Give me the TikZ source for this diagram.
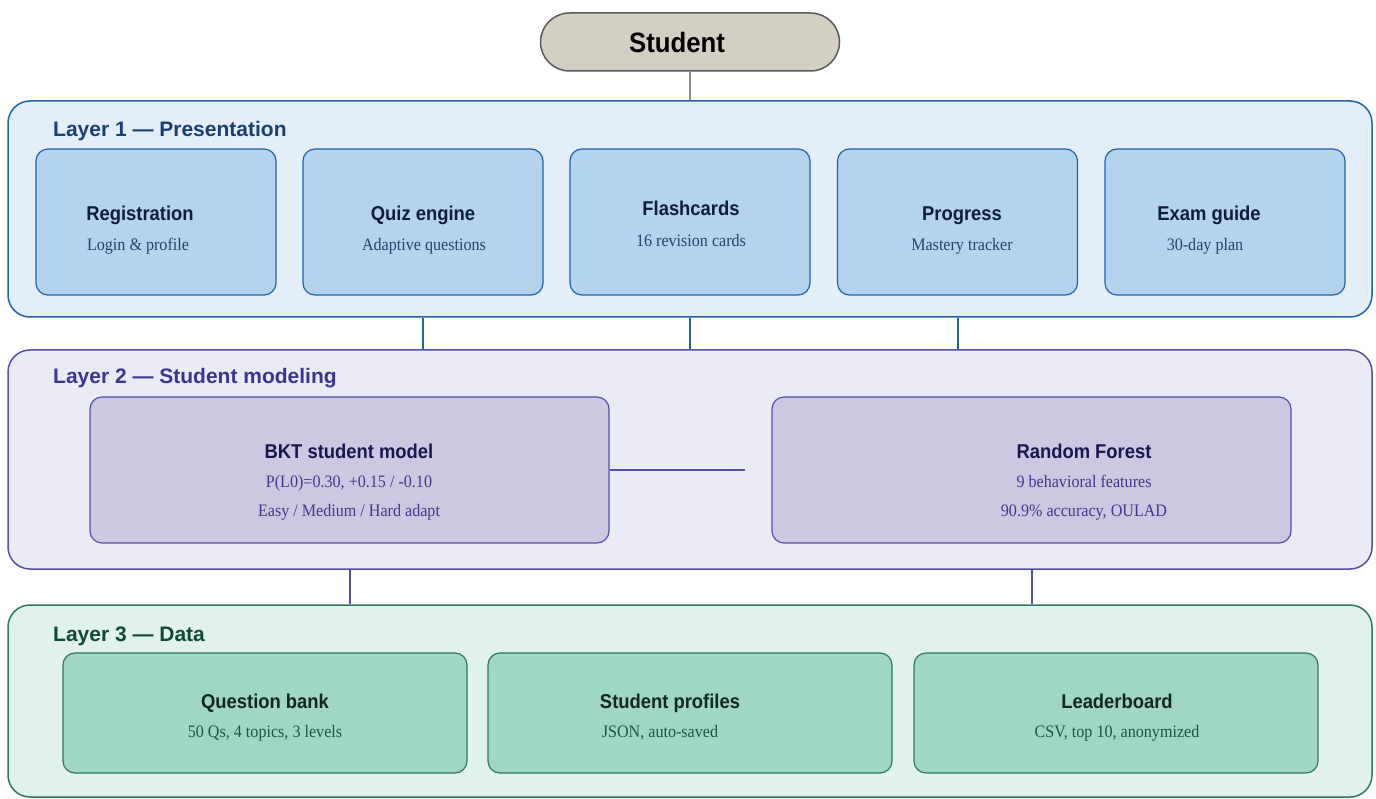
\documentclass[tikz,border=0pt]{standalone}
\usepackage{fontspec}
\setmainfont[FakeStretch=0.92]{Liberation Serif}
\newfontfamily\headfont[FakeStretch=0.92]{Liberation Sans}
\newfontfamily\layerfont{Liberation Sans}
\usetikzlibrary{calc}

\definecolor{pillfill}{HTML}{D3D0C3}
\definecolor{pillline}{HTML}{5A5A5A}
\definecolor{blueback}{HTML}{E4EEF8}
\definecolor{blueline}{HTML}{1F63A8}
\definecolor{bluebox}{HTML}{B3D3EE}
\definecolor{bluelabel}{HTML}{1A3F73}
\definecolor{bluetitle}{HTML}{0E1E3A}
\definecolor{bluesub}{HTML}{27426E}
\definecolor{purpback}{HTML}{EBEBF5}
\definecolor{purpline}{HTML}{5550A5}
\definecolor{purpbox}{HTML}{CCC8E4}
\definecolor{purplabel}{HTML}{3A3690}
\definecolor{purptitle}{HTML}{1A1650}
\definecolor{purpsub}{HTML}{40388A}
\definecolor{greenback}{HTML}{E1F1EB}
\definecolor{greenline}{HTML}{2A7A5E}
\definecolor{greenbox}{HTML}{A0D6C5}
\definecolor{greenlabel}{HTML}{0F4A36}
\definecolor{greentitle}{HTML}{10291F}
\definecolor{greensub}{HTML}{1F5443}

\tikzset{
  layer/.style={
    draw=#1, line width=1.5pt, rounded corners=22pt,
    minimum width=1364pt, inner sep=0pt
  },
  layerlabel/.style={
    anchor=base west, text=#1, inner sep=0pt,
    font=\layerfont\bfseries\fontsize{21}{25}\selectfont
  },
  card/.style={
    draw=#1, line width=1.2pt, rounded corners=12pt, inner sep=0pt
  },
  cardtitle/.style={
    anchor=base, text=#1, inner sep=0pt,
    font=\headfont\bfseries\fontsize{20}{24}\selectfont
  },
  cardsub/.style={
    anchor=base, text=#1, inner sep=0pt,
    font=\fontsize{17.5}{21}\selectfont
  },
  link/.style={draw=#1, line width=2pt}
}

\begin{document}
\begin{tikzpicture}[x=1pt, y=-1pt]
  \useasboundingbox (0,0) rectangle (1376,799);

  \node [draw=pillline, fill=pillfill, line width=1.5pt, rounded corners=29pt,
         minimum width=299pt, minimum height=58pt, inner sep=0pt,
         font=\headfont\bfseries\fontsize{28}{30}\selectfont, text=black]
        (student) at (690,42) {Student\hspace*{26pt}};

  % the three layers
  \node [layer=blueline, fill=blueback, minimum height=216pt] (layerA) at (690,209) {};
  \node [layer=purpline, fill=purpback, minimum height=219pt] (layerB) at (690,459.5) {};
  \node [layer=greenline, fill=greenback, minimum height=192pt] (layerC) at (690,701) {};

  \node [layerlabel=bluelabel]  (labA) at (53,137) {Layer 1 \textemdash{} Presentation};
  \node [layerlabel=purplabel]  (labB) at (53,384) {Layer 2 \textemdash{} Student modeling};
  \node [layerlabel=greenlabel] (labC) at (53,641) {Layer 3 \textemdash{} Data};

  % layer 1
  \foreach \nm/\cx in {reg/156, quiz/423, flash/690, prog/957.5, exam/1225}
    \node [card=blueline, fill=bluebox, minimum width=240pt, minimum height=146pt]
          (\nm) at (\cx,222) {};

  \node [cardtitle=bluetitle] (reg-t)   at (140,221)  {Registration};
  \node [cardsub=bluesub]     (reg-s)   at (138,251)  {Login \& profile};
  \node [cardtitle=bluetitle] (quiz-t)  at (423,221)  {Quiz engine};
  \node [cardsub=bluesub]     (quiz-s)  at (424,251)  {Adaptive questions};
  \node [cardtitle=bluetitle] (flash-t) at (691,216)  {Flashcards};
  \node [cardsub=bluesub]     (flash-s) at (691,247)  {16 revision cards};
  \node [cardtitle=bluetitle] (prog-t)  at (962,221)  {Progress};
  \node [cardsub=bluesub]     (prog-s)  at (962,251)  {Mastery tracker};
  \node [cardtitle=bluetitle] (exam-t)  at (1209,221) {Exam guide};
  \node [cardsub=bluesub]     (exam-s)  at (1205,251) {30-day plan};

  % layer 2
  \node [card=purpline, fill=purpbox, minimum width=519pt, minimum height=146pt]
        (bkt) at (349.5,470) {};
  \node [card=purpline, fill=purpbox, minimum width=519pt, minimum height=146pt]
        (rf) at (1031.5,470) {};

  \node [cardtitle=purptitle] (bkt-t)  at (349,458) {BKT student model};
  \node [cardsub=purpsub]     (bkt-s1) at (349,487) {P(L0)=0.30, +0.15 / -0.10};
  \node [cardsub=purpsub]     (bkt-s2) at (349,516) {Easy / Medium / Hard adapt};
  \node [cardtitle=purptitle] (rf-t)   at (1084,458) {Random Forest};
  \node [cardsub=purpsub]     (rf-s1)  at (1084,487) {9 behavioral features};
  \node [cardsub=purpsub]     (rf-s2)  at (1084,516) {90.9\% accuracy, OULAD};

  % layer 3
  \foreach \nm/\cx in {qbank/265, prof/690, board/1116}
    \node [card=greenline, fill=greenbox, minimum width=404pt, minimum height=120pt]
          (\nm) at (\cx,713) {};

  \node [cardtitle=greentitle] (qbank-t) at (265,708)  {Question bank};
  \node [cardsub=greensub]     (qbank-s) at (265,737)  {50 Qs, 4 topics, 3 levels};
  \node [cardtitle=greentitle] (prof-t)  at (670,708)  {Student profiles};
  \node [cardsub=greensub]     (prof-s)  at (660,737)  {JSON, auto-saved};
  \node [cardtitle=greentitle] (board-t) at (1117,708) {Leaderboard};
  \node [cardsub=greensub]     (board-s) at (1117,737) {CSV, top 10, anonymized};

  % connectors
  \draw [link=pillline!70, line width=1.5pt] (student.south) -- (layerA.north);
  \foreach \nm in {quiz, flash, prog}
    \draw [link=blueline] (\nm |- layerA.south) -- (\nm |- layerB.north);
  \foreach \nm in {bkt, rf}
    \draw [link=purpline] (\nm |- layerB.south) -- (\nm |- layerC.north);
  \coordinate (rfstub) at (745,470);
  \draw [link=purpline] (bkt.east) -- (rfstub);
\end{tikzpicture}
\end{document}
